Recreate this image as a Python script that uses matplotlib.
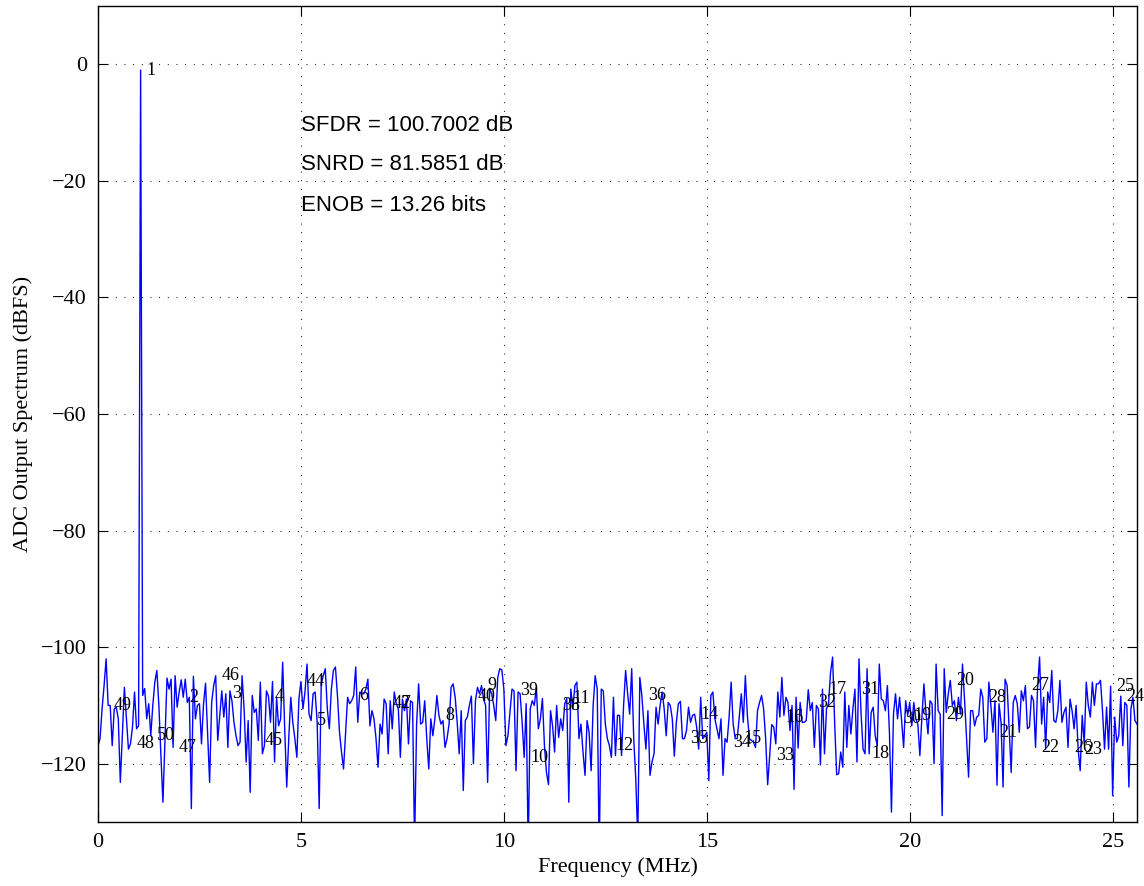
import numpy as np
import matplotlib
matplotlib.use("Agg")
import matplotlib.pyplot as plt

# FFT set-up of the converter test
fs_mhz = 51.2
nfft = 1024
fund_bin = 21

# Output spectrum (dBFS), one value per FFT bin, bins 0..512
dbfs_bins_000_064 = [
    -116.9, -115.7, -110.6, -106.6, -102.0, -110.0, -110.0, -116.9, -110.6, -110.3,
    -112.3, -123.2, -115.2, -106.9, -112.3, -117.5, -116.6, -113.7, -107.7, -114.0,
    -113.5, -1.0, -108.3, -107.1, -112.3, -109.7, -115.2, -110.0, -106.0, -104.0,
    -110.0, -118.6, -126.6, -115.7, -105.3, -107.2, -105.5, -117.2, -104.9, -110.3,
    -107.7, -105.6, -108.6, -105.5, -109.5, -108.6, -127.7, -105.0, -112.3, -110.0,
    -109.7, -116.6, -109.7, -106.2, -114.6, -123.2, -109.5, -106.6, -104.9, -116.0,
    -111.7, -107.5, -112.0, -108.0, -117.2,
]
dbfs_bins_065_128 = [
    -107.5, -109.2, -112.9, -115.2, -116.9, -116.3, -104.9, -110.6, -119.7, -112.6,
    -124.9, -108.3, -111.2, -110.6, -116.0, -106.0, -118.3, -116.9, -107.5, -108.4,
    -112.9, -105.9, -119.7, -108.6, -113.5, -112.3, -102.6, -114.0, -124.0, -115.7,
    -108.6, -112.9, -115.7, -118.9, -108.9, -105.9, -110.6, -107.7, -102.9, -111.5,
    -112.6, -108.0, -107.7, -112.9, -127.7, -106.3, -104.9, -103.7, -110.6, -114.0,
    -107.2, -104.0, -103.4, -108.3, -114.6, -118.0, -120.9, -114.6, -108.6, -109.7,
    -109.2, -108.3, -103.4, -112.9,
]
dbfs_bins_129_192 = [
    -107.7, -108.0, -108.0, -107.2, -105.5, -113.5, -110.9, -112.3, -115.7, -120.6,
    -113.2, -114.9, -108.9, -109.7, -118.3, -109.2, -114.0, -107.7, -109.7, -110.6,
    -118.9, -108.9, -110.9, -108.9, -116.6, -109.2, -109.5, -134.0, -113.2, -106.3,
    -113.2, -112.9, -109.2, -115.7, -120.9, -112.3, -115.2, -112.3, -108.3, -111.7,
    -113.2, -112.6, -117.2, -115.7, -113.2, -106.9, -106.3, -108.6, -112.9, -118.3,
    -110.9, -124.6, -112.6, -112.0, -110.0, -108.4, -120.0, -109.2, -106.9, -108.0,
    -106.6, -108.9, -110.0, -123.2,
]
dbfs_bins_193_256 = [
    -107.2, -108.0, -110.0, -112.6, -105.2, -103.7, -103.9, -107.2, -116.9, -115.2,
    -111.2, -107.2, -107.5, -121.2, -107.7, -108.0, -112.9, -118.9, -109.7, -135.0,
    -110.6, -109.2, -110.0, -106.9, -114.0, -112.3, -108.8, -116.9, -121.5, -123.6,
    -110.9, -113.5, -118.0, -110.0, -115.5, -112.3, -114.3, -109.7, -108.8, -126.6,
    -107.2, -110.6, -106.6, -106.0, -115.7, -113.2, -118.0, -122.0, -112.6, -114.6,
    -121.2, -110.0, -104.9, -107.2, -136.0, -107.2, -107.5, -113.2, -115.7, -116.9,
    -118.9, -108.6, -118.6, -111.7,
]
dbfs_bins_257_321 = [
    -111.7, -118.6, -110.0, -104.0, -108.0, -111.5, -103.7, -115.7, -122.6, -133.0,
    -105.2, -108.3, -113.2, -117.5, -110.9, -122.0, -119.7, -118.3, -110.3, -113.2,
    -110.0, -107.7, -110.6, -115.2, -109.5, -110.0, -112.3, -118.7, -112.9, -109.7,
    -109.3, -115.7, -115.7, -114.3, -110.3, -112.9, -111.7, -111.5, -113.7, -117.5,
    -108.6, -115.7, -115.2, -114.6, -122.9, -108.3, -107.7, -112.3, -114.0, -115.7,
    -112.3, -122.0, -115.7, -116.3, -112.0, -106.0, -113.2, -115.7, -115.7, -112.0,
    -108.0, -112.9, -104.9, -111.7, -115.7,
]
dbfs_bins_322_385 = [
    -116.0, -116.3, -117.2, -110.9, -109.5, -108.3, -110.6, -115.7, -123.6, -118.6,
    -113.3, -113.7, -116.6, -107.7, -112.0, -105.2, -111.7, -108.6, -109.5, -114.3,
    -110.0, -124.4, -108.6, -117.3, -109.5, -112.9, -112.9, -112.6, -107.3, -110.9,
    -109.5, -117.2, -110.0, -110.6, -120.2, -107.2, -118.3, -110.6, -109.7, -104.3,
    -101.7, -112.9, -121.9, -121.7, -118.0, -120.6, -107.7, -117.2, -110.0, -114.9,
    -110.6, -107.2, -119.7, -102.0, -111.2, -117.5, -118.3, -103.7, -118.3, -111.2,
    -110.3, -115.2, -116.9, -102.9,
]
dbfs_bins_386_450 = [
    -108.9, -109.2, -110.9, -106.6, -114.6, -128.3, -111.5, -108.0, -112.3, -108.6,
    -112.6, -117.2, -109.2, -111.7, -109.5, -113.5, -109.5, -112.3, -113.2, -118.6,
    -112.0, -106.3, -111.2, -114.9, -109.2, -109.7, -120.0, -102.9, -110.9, -111.5,
    -128.9, -103.7, -111.2, -108.0, -105.7, -110.0, -109.2, -112.6, -108.6, -111.5,
    -102.9, -108.9, -115.7, -122.3, -110.9, -110.9, -113.5, -112.0, -111.7, -107.2,
    -108.6, -116.3, -115.7, -106.0, -110.0, -114.6, -109.2, -123.7, -109.7, -112.9,
    -124.0, -105.5, -106.6, -114.0, -121.5,
]
dbfs_bins_451_512 = [
    -109.5, -108.3, -109.7, -114.6, -107.5, -109.2, -106.6, -114.0, -113.7, -108.3,
    -109.2, -117.2, -106.9, -101.7, -113.2, -108.6, -117.5, -107.7, -109.5, -104.0,
    -112.6, -112.9, -110.9, -105.7, -112.9, -111.2, -110.3, -117.2, -108.9, -110.9,
    -114.0, -110.0, -117.5, -121.2, -111.7, -116.6, -106.0, -110.0, -112.0, -106.0,
    -110.0, -106.3, -106.3, -105.7, -110.9, -117.5, -110.3, -117.5, -106.7, -125.5,
    -112.0, -116.3, -115.2, -108.4, -116.9, -109.5, -110.0, -124.0, -110.6, -108.6,
    -112.6, -113.2,
]

# Harmonic orders that get a number tag on the plot
harmonic_orders = [k for k in range(1, 51) if k not in (13, 41, 43)]

# Summary figures of merit
metric_lines = [
    "SFDR = 100.7002 dB",
    "SNRD = 81.5851 dB",
    "ENOB = 13.26 bits",
]
metric_y = [-10.5, -17.2, -24.3]
metric_x = 5.0

spectrum = np.array(
    dbfs_bins_000_064 + dbfs_bins_065_128 + dbfs_bins_129_192 + dbfs_bins_193_256
    + dbfs_bins_257_321 + dbfs_bins_322_385 + dbfs_bins_386_450 + dbfs_bins_451_512
)
freq = np.arange(len(spectrum)) * fs_mhz / nfft

serif = "Liberation Serif"
sans = "Liberation Sans"

W, H = 1144, 886
fig = plt.figure(figsize=(W / 100, H / 100), dpi=100)
ax = fig.add_axes([98 / W, 1 - 822 / H, (1137 - 98) / W, (822 - 6) / H])

ax.plot(freq, spectrum, color=(0, 0, 1), lw=1.0)

ax.set_xlim(0, fs_mhz / 2)
ax.set_ylim(-130, 10)
ax.set_xticks(np.arange(0, 26, 5))
ax.set_yticks(np.arange(-120, 1, 20))
ax.grid(True, color="black", linestyle=(0, (0.8, 7.0)), lw=0.8)
ax.tick_params(direction="in", length=7, width=0.8, top=True, right=True,
               labelsize=16, pad=8)
for lab in ax.get_xticklabels() + ax.get_yticklabels():
    lab.set_fontfamily(serif)
for sp in ax.spines.values():
    sp.set_linewidth(1.0)
    sp.set_color("black")

# Tag each harmonic at its aliased bin
for k in harmonic_orders:
    b = (k * fund_bin) % nfft
    if b > nfft // 2:
        b = nfft - b
    ax.annotate(str(k), (freq[b], spectrum[b]), xytext=(4.3, 0),
                textcoords="offset points", ha="left", va="center",
                fontsize=13, family=serif, annotation_clip=True)

for txt, y in zip(metric_lines, metric_y):
    ax.text(metric_x, y, txt, ha="left", va="center", fontsize=16, family=sans)

ax.set_xlabel("Frequency (MHz)", fontsize=16, family=serif, labelpad=4)
ax.set_ylabel("ADC Output Spectrum (dBFS)", fontsize=16, family=serif, labelpad=6)

fig.savefig("out.png", dpi=100)
